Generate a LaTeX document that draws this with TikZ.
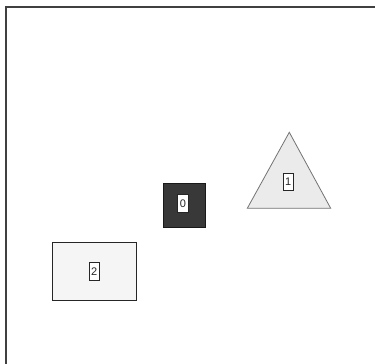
\documentclass[tikz,border=0pt]{standalone}
\usepackage{fontspec}
\setmainfont{Liberation Sans}
\begin{document}
\begin{tikzpicture}[x=1pt,y=-1pt,
  lbl/.style={draw=black!85,fill=white,line width=1pt,inner xsep=2.2pt,inner ysep=0pt,minimum height=17.5pt,font=\fontsize{11}{12}\selectfont,text=black!85}]
\useasboundingbox (0,0) rectangle (375,364);
\fill[white] (0,0) rectangle (375,364);
\draw[line width=1.5pt,black!75] (6,364) -- (6,7) -- (375,7);
% shape 0
\draw[fill=black!78,draw=black!90,line width=0.8pt] (163,183) rectangle (205,227);
\node[lbl] (l0) at (183,203.5) {0};
% shape 1
\draw[fill=black!8,draw=black!55,line width=0.8pt] (289.3,132.3) -- (330.7,208.3) -- (247.3,208.3) -- cycle;
\node[lbl] (l1) at (288.3,182) {1};
% shape 2
\draw[fill=black!4,draw=black!85,line width=0.9pt] (52,242.5) rectangle (136.5,300.5);
\node[lbl] (l2) at (94.3,271.5) {2};
\end{tikzpicture}
\end{document}
